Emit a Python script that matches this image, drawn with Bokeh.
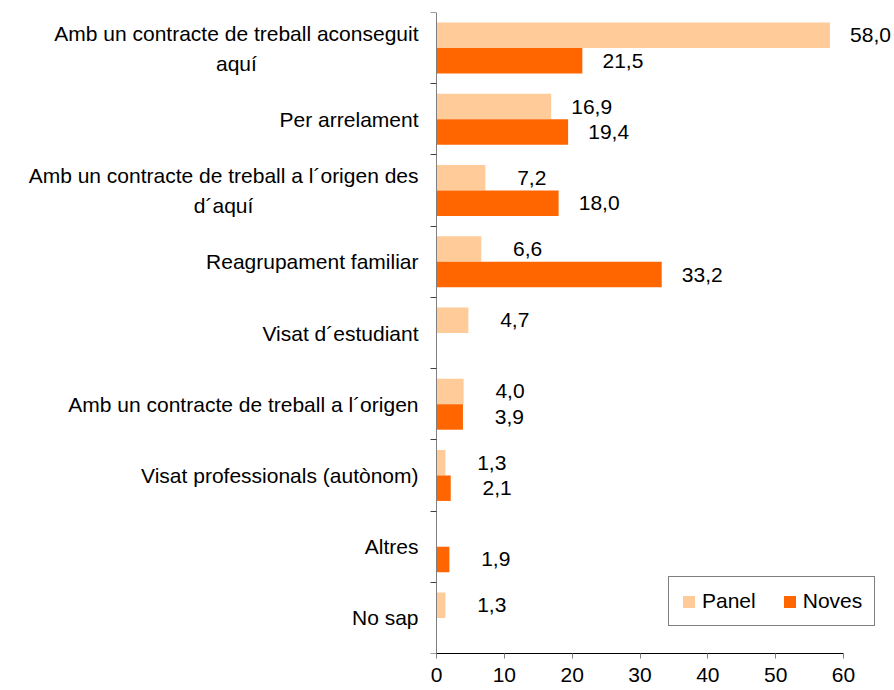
from bokeh.plotting import figure
from bokeh.models import ColumnDataSource, FixedTicker, Legend, LegendItem, Range1d
from bokeh.core.properties import value
from bokeh.embed import file_html
from bokeh.resources import INLINE

# ---------------- data ----------------
categories = [
    "Amb un contracte de treball aconseguit\naquí",
    "Per arrelament",
    "Amb un contracte de treball a l´origen des\nd´aquí",
    "Reagrupament familiar",
    "Visat d´estudiant",
    "Amb un contracte de treball a l´origen",
    "Visat professionals (autònom)",
    "Altres",
    "No sap",
]
panel = [58.0, 16.9, 7.2, 6.6, 4.7, 4.0, 1.3, None, 1.3]
noves = [21.5, 19.4, 18.0, 33.2, None, 3.9, 2.1, 1.9, None]
series_names = ["Panel", "Noves"]
x_ticks = [0, 10, 20, 30, 40, 50, 60]

# ---------------- style ----------------
FONT = "Liberation Sans"
FS = "21px"
PANEL_COLOR = "#FFCC99"
NOVES_COLOR = "#FF6600"
BAR_H = 0.358
W, H = 894, 690
AXIS_PX = 436            # pixel position of x = 0
PX_PER_UNIT = 407 / 60   # horizontal scale
n = len(categories)

# Arial / Liberation Sans advance widths (em) for measuring first lines
_AW = {" ": .278, "A": .667, "a": .556, "b": .556, "c": .5, "d": .556,
       "e": .556, "g": .556, "i": .222, "l": .222, "m": .833, "n": .556,
       "o": .556, "r": .333, "s": .5, "t": .278, "u": .556, "´": .333}


def text_width(s, size=21):
    return sum(_AW.get(ch, .556) for ch in s) * size


def make_source(vals, shift):
    ys, xs, txt = [], [], []
    for i, v in enumerate(vals):
        if v is None:
            continue
        ys.append(n - i - 0.5 + shift)
        xs.append(v)
        txt.append(f"{v:.1f}".replace(".", ","))
    return ColumnDataSource(dict(y=ys, x=xs, label=txt))


src_p = make_source(panel, BAR_H / 2)
src_n = make_source(noves, -BAR_H / 2)

p = figure(width=W, height=H, title=None,
           x_range=Range1d(-AXIS_PX / PX_PER_UNIT, (W - AXIS_PX) / PX_PER_UNIT),
           y_range=Range1d(0, n),
           output_backend="svg", toolbar_location=None,
           min_border_left=0, min_border_right=0,
           min_border_top=12, min_border_bottom=37)
p.outline_line_color = None
p.xgrid.visible = False
p.ygrid.visible = False

r1 = p.hbar(y="y", left=0, right="x", height=BAR_H, source=src_p,
            fill_color=PANEL_COLOR, line_color=None)
r2 = p.hbar(y="y", left=0, right="x", height=BAR_H, source=src_n,
            fill_color=NOVES_COLOR, line_color=None)

for src in (src_p, src_n):
    p.text(x="x", y="y", text="label", source=src, x_offset=61,
           text_align="right", text_baseline="middle",
           text_font=value(FONT), text_font_size=FS, text_color="black")

# category labels (right-aligned block, multi-line ones centred line by line)
cy, ctext, calign, coff = [], [], [], []
for i, cat in enumerate(categories):
    cy.append(n - i - 0.5)
    ctext.append(cat)
    if "\n" in cat:
        w = text_width(cat.split("\n")[0])
        calign.append("center")
        coff.append(-18 - w / 2)
    else:
        calign.append("right")
        coff.append(-18)
cat_src = ColumnDataSource(dict(x=[0] * n, y=cy, text=ctext, align=calign, off=coff))
p.text(x="x", y="y", text="text", source=cat_src, x_offset="off",
       text_align="align", text_baseline="middle", text_line_height=1.3,
       text_font=value(FONT), text_font_size=FS, text_color="black")

# x axis
xa = p.xaxis[0]
xa.ticker = FixedTicker(ticks=x_ticks)
xa.bounds = (0, 60)
xa.axis_line_color = "black"
xa.major_tick_line_color = "#808080"
xa.major_tick_out = 5
xa.major_tick_in = 0
xa.minor_tick_line_color = None
xa.major_label_text_font = FONT
xa.major_label_text_font_size = FS
xa.major_label_text_color = "black"
xa.major_label_standoff = 9

# y axis at x = 0 with tick marks at category boundaries
ya = p.yaxis[0]
ya.fixed_location = 0
ya.ticker = FixedTicker(ticks=list(range(n + 1)))
ya.major_label_overrides = {k: "" for k in range(n + 1)}
ya.axis_line_color = "#808080"
ya.major_tick_line_color = "#404040"
ya.major_tick_out = 6
ya.major_tick_in = 0
ya.minor_tick_line_color = None

legend = Legend(items=[LegendItem(label=series_names[0], renderers=[r1]),
                       LegendItem(label=series_names[1], renderers=[r2])],
                orientation="horizontal", location=(AXIS_PX + 232, 27),
                border_line_color="black", border_line_width=1,
                glyph_width=15, glyph_height=15, label_standoff=6,
                spacing=26, padding=12, margin=0, label_height=24,
                label_text_font=FONT, label_text_font_size=FS,
                label_text_color="black", background_fill_color="white",
                background_fill_alpha=1)
p.add_layout(legend)

open("out.html", "w").write(file_html(p, INLINE))
